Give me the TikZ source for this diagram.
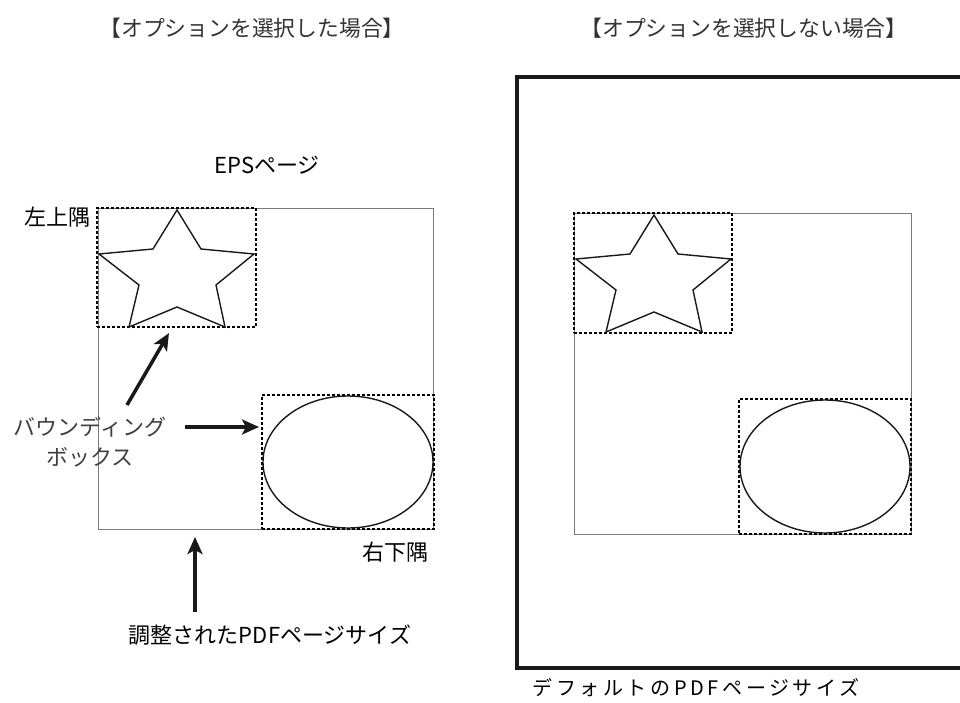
\documentclass[tikz,border=0pt]{standalone}
\usepackage{fontspec}
\setmainfont{Noto Sans CJK JP}
\usetikzlibrary{arrows.meta}
\definecolor{headgray}{HTML}{333333}
\definecolor{pagegray}{HTML}{7A7A7A}
\definecolor{lblgray}{HTML}{404040}
\tikzset{
  pagerect/.style={draw=pagegray, line width=0.9pt, inner sep=0pt, outer sep=0pt},
  bboxrect/.style={draw=black, line width=1.3pt, dash pattern=on 3pt off 2pt, inner sep=0pt, outer sep=0pt},
  shapeline/.style={draw=black!90, line width=1.4pt, line join=miter},
  bigarrow/.style={draw=black!90, line width=3.5pt, -{Stealth[length=17pt,width=15pt,inset=4pt]}},
  heading/.style={text=headgray, font=\fontsize{21.8}{26}\selectfont, inner sep=0pt},
  label/.style={text=black, font=\fontsize{22}{26}\selectfont, inner sep=0pt},
  defaultpage/.style={draw=black!90, line width=4pt, inner sep=0pt, outer sep=0pt}
}
\newcommand{\starpath}{(80,2) -- (56,41) -- (2,46) -- (42,77) -- (32,119) -- (80,99) -- (128,119) -- (119,77) -- (157,46) -- (104,41) -- cycle}
\begin{document}
\begin{tikzpicture}[x=1pt,y=-1pt]
\useasboundingbox (0,0) rectangle (960,703);
% headings
\node[heading] (h1) at (252,28) {【オプションを選択した場合】};
\node[heading] (h2) at (744,28) {【オプションを選択しない場合】};
% ---------- left ----------
\node[pagerect, minimum width=335pt, minimum height=321pt] (epsL) at (265.5,368.5) {};
\node[bboxrect, minimum width=159pt, minimum height=119pt] (sbL) at (176.5,267.5) {};
\node[bboxrect, minimum width=172pt, minimum height=134pt] (ebL) at (348,462) {};
\begin{scope}[shift={(sbL.north west)}]
  \draw[shapeline] \starpath;
\end{scope}
\draw[shapeline] (ebL.center) ellipse [x radius=85pt, y radius=66pt];
\node[label] (eps) at (267,165) {EPSページ};
\node[label] (tl) at (57,217) {左上隅};
\node[label] (br) at (395,552) {右下隅};
\node[label, text=lblgray, align=center, font=\fontsize{22}{30}\selectfont] (bb) at (90,442) {バウンディング\\ボックス};
\node[label, font=\fontsize{22}{26}\selectfont] (adj) at (270,635) {調整されたPDFページサイズ};
\coordinate (a1s) at (127,405);
\coordinate (a2s) at (185,427);
\coordinate (a3s) at (195,612);
\draw[bigarrow, shorten >=7pt] (a1s) -- ([xshift=-4pt]sbL.south);
\draw[bigarrow, shorten >=3pt] (a2s) -- (a2s -| ebL.west);
\draw[bigarrow, shorten >=8pt] (a3s) -- (a3s |- epsL.south);
% ---------- right ----------
\node[defaultpage, minimum width=450pt, minimum height=591pt] (defP) at (742,372.5) {};
\node[pagerect, minimum width=337pt, minimum height=321pt] (epsR) at (742.5,373.5) {};
\node[bboxrect, minimum width=158pt, minimum height=120pt] (sbR) at (653,273) {};
\node[bboxrect, minimum width=172pt, minimum height=135pt] (ebR) at (825,466.5) {};
\begin{scope}[shift={(sbR.north west)}]
  \draw[shapeline] \starpath;
\end{scope}
\draw[shapeline] (ebR.center) ellipse [x radius=85pt, y radius=66.5pt];
\node[label, font=\addfontfeatures{LetterSpace=18}\fontsize{20}{24}\selectfont] (def) at (696,688) {デフォルトのPDFページサイズ};
\end{tikzpicture}
\end{document}
